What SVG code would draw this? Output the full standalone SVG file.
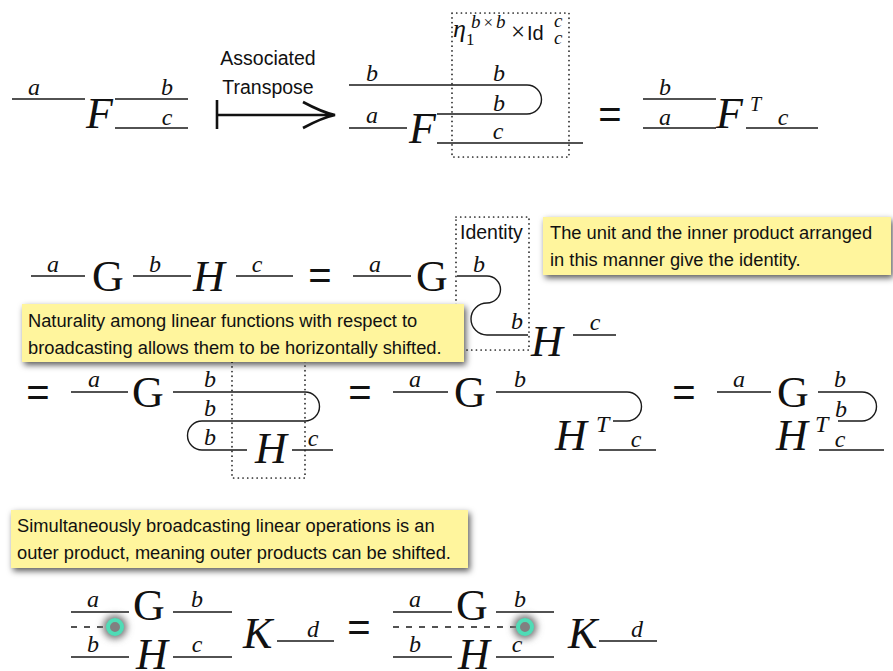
<svg xmlns="http://www.w3.org/2000/svg" width="893" height="671" viewBox="0 0 893 671">
<defs>
<style>
.ln{stroke:#1a1a1a;stroke-width:1.4;fill:none}
.dot{stroke:#222;stroke-width:1.7;stroke-dasharray:0.1 4.6;stroke-linecap:round;fill:none}
.lab{font-family:"Liberation Serif",serif;font-style:italic;font-size:24px;text-anchor:middle;fill:#111}
.big{font-family:"Liberation Serif",serif;font-style:italic;font-size:44px;fill:#111}
.up{font-style:normal}
.eq{font-family:"Liberation Sans",sans-serif;font-size:40px;fill:#111;text-anchor:middle}
.sans{font-family:"Liberation Sans",sans-serif;font-size:19.5px;fill:#111}
.note{font-family:"Liberation Sans",sans-serif;font-size:18.3px;fill:#111}
.box{fill:#fff59d}
.sup{font-family:"Liberation Serif",serif;font-style:italic;font-size:19px;fill:#111}
.dash{stroke:#1a1a1a;stroke-width:1.4;stroke-dasharray:6 7;fill:none}
</style>
<filter id="sh" x="-10%" y="-30%" width="120%" height="170%">
<feDropShadow dx="2" dy="3" stdDeviation="3" flood-color="#000" flood-opacity="0.65"/>
</filter>
<filter id="glow" x="-100%" y="-100%" width="300%" height="300%">
<feGaussianBlur stdDeviation="3.5"/>
</filter>
</defs>
<rect width="893" height="671" fill="#fff"/>

<g id="connectors">
<path class="ln" d="M12,99H85M115,99H188M115,128H188"/>
<path class="ln" d="M349,85H527A14.5,14.5 0 0 1 527,114H437M349,128H407M437,143H583"/>
<path class="ln" d="M643,99H716M643,128H716M746,128H818"/>
<path class="ln" d="M31,276H85M133,276H191M236,276H293"/>
<path class="ln" d="M353,276H411M457,276H487A13.5,13.5 0 0 1 487,303A16,16 0 0 0 487,335H528M573,335H616"/>
<path class="ln" d="M71,392H128M173,392H305A14.5,14.5 0 0 1 305,421H202A14.5,14.5 0 0 0 202,450H247M292,450H333"/>
<path class="ln" d="M393,392H448M496,392H627A14.5,14.5 0 0 1 627,421H613M599,450H656"/>
<path class="ln" d="M717,392H771M818,392H862A14.5,14.5 0 0 1 862,421H838M819,450H884"/>
<path class="ln" d="M71,612H129M173,612H232M71,657H129M173,657H232M277,641H334"/>
<path class="dash" d="M71,627H115"/>
<path class="ln" d="M393,612H452M496,612H554M393,657H452M496,657H554M599,641H657"/>
<path class="dash" d="M393,627H525"/>
</g>

<g id="row1-left">
<text class="lab" x="34" y="95">a</text>
<text class="big" x="86" y="128">F</text>
<text class="lab" x="167" y="95">b</text>
<text class="lab" x="167" y="125">c</text>
</g>

<g id="transpose-arrow">
<text class="sans" x="268" y="65" text-anchor="middle">Associated</text>
<text class="sans" x="268" y="94" text-anchor="middle">Transpose</text>
<path d="M217,100V129M217,115H333M303,102C316,109 325,113 335,115C325,117 316,121 303,128" stroke="#111" stroke-width="2.6" fill="none"/>
</g>

<g id="row1-mid">
<text class="lab" x="372" y="81">b</text>
<text class="lab" x="499" y="81">b</text>
<text class="lab" x="499" y="111">b</text>
<text class="lab" x="372" y="123">a</text>
<text class="big" x="409" y="143">F</text>
<text class="lab" x="498" y="139">c</text>
</g>

<g id="eta-box">
<rect class="dot" x="452" y="13" width="117" height="144"/>
<text x="453" y="37" font-family="Liberation Serif, serif" font-style="italic" font-size="26" fill="#111">η</text>
<text x="466" y="45" font-family="Liberation Serif, serif" font-size="17" fill="#111">1</text>
<text class="sup" x="471" y="28">b<tspan font-style="normal" font-size="17" dx="3">×</tspan><tspan dx="3">b</tspan></text>
<text x="511" y="40" font-family="Liberation Serif, serif" font-size="25" fill="#111">×</text>
<text x="527" y="40" font-family="Liberation Sans, sans-serif" font-size="20" fill="#111">Id</text>
<text class="sup" x="554" y="27" font-size="17">c</text>
<text class="sup" x="554" y="44" font-size="17">c</text>
</g>

<g id="row1-right">
<text class="eq" x="610" y="128">=</text>
<text class="lab" x="665" y="95">b</text>
<text class="lab" x="665" y="125">a</text>
<text class="big" x="716" y="128">F</text>
<text x="750" y="111" font-family="Liberation Serif, serif" font-style="italic" font-size="20" fill="#111">T</text>
<text class="lab" x="783" y="125">c</text>
</g>

<g id="row2-left">
<text class="lab" x="53" y="272">a</text>
<text class="big up" x="92" y="291">G</text>
<text class="lab" x="155" y="272">b</text>
<text class="big" x="193" y="291">H</text>
<text class="lab" x="257" y="272">c</text>
<text class="eq" x="320" y="289">=</text>
</g>

<g id="row2-right">
<text class="lab" x="375" y="272">a</text>
<text class="big up" x="416" y="291">G</text>
<text class="lab" x="479" y="272">b</text>
<text class="lab" x="517" y="329">b</text>
<text class="big" x="531" y="356">H</text>
<text class="lab" x="595" y="330">c</text>
</g>

<g id="identity-box">
<rect class="dot" x="456" y="217" width="73" height="133"/>
<text class="sans" x="460" y="239">Identity</text>
</g>

<g id="row3-a">
<text class="eq" x="38" y="406">=</text>
<text class="lab" x="94" y="387">a</text>
<text class="big up" x="132" y="407">G</text>
<text class="lab" x="210" y="387">b</text>
<text class="lab" x="210" y="416">b</text>
<text class="lab" x="210" y="445">b</text>
<text class="big" x="255" y="463">H</text>
<text class="lab" x="313" y="446">c</text>
<rect class="dot" x="232" y="345" width="73" height="133"/>
</g>

<g id="row3-b">
<text class="eq" x="360" y="406">=</text>
<text class="lab" x="415" y="387">a</text>
<text class="big up" x="454" y="407">G</text>
<text class="lab" x="520" y="387">b</text>
<text class="big" x="555" y="450">H</text>
<text x="596" y="432" font-family="Liberation Serif, serif" font-style="italic" font-size="24" fill="#111">T</text>
<text class="lab" x="636" y="447">c</text>
</g>

<g id="row3-c">
<text class="eq" x="684" y="406">=</text>
<text class="lab" x="739" y="387">a</text>
<text class="big up" x="777" y="407">G</text>
<text class="lab" x="840" y="387">b</text>
<text class="lab" x="841" y="417">b</text>
<text class="lab" x="840" y="447">c</text>
<text class="big" x="776" y="450">H</text>
<text x="815" y="432" font-family="Liberation Serif, serif" font-style="italic" font-size="24" fill="#111">T</text>
</g>

<g id="row4-left">
<text class="lab" x="93" y="607">a</text>
<text class="lab" x="93" y="652">b</text>
<text class="big up" x="133" y="620">G</text>
<text class="big" x="136" y="669">H</text>
<text class="lab" x="197" y="607">b</text>
<text class="lab" x="197" y="652">c</text>
<text class="big" x="243" y="648">K</text>
<text class="lab" x="313" y="637">d</text>
<circle cx="115" cy="627" r="12" fill="#777" filter="url(#glow)"/>
<circle cx="115" cy="627" r="7" fill="#808080" stroke="#4fdcb6" stroke-width="4"/>
</g>

<g id="row4-eq">
<text class="eq" x="359" y="641">=</text>
</g>

<g id="row4-right">
<text class="lab" x="415" y="607">a</text>
<text class="lab" x="415" y="652">b</text>
<text class="big up" x="456" y="620">G</text>
<text class="big" x="458" y="669">H</text>
<text class="lab" x="520" y="607">b</text>
<text class="lab" x="517" y="652">c</text>
<text class="big" x="568" y="648">K</text>
<text class="lab" x="637" y="637">d</text>
<circle cx="525" cy="627" r="12" fill="#777" filter="url(#glow)"/>
<circle cx="525" cy="627" r="7" fill="#808080" stroke="#4fdcb6" stroke-width="4"/>
</g>

<g id="note-identity">
<rect class="box" x="543" y="217" width="348" height="58" filter="url(#sh)"/>
<text class="note" x="550" y="239">The unit and the inner product arranged</text>
<text class="note" x="550" y="266">in this manner give the identity.</text>
</g>

<g id="note-naturality">
<rect class="box" x="22" y="304" width="442" height="58" filter="url(#sh)"/>
<text class="note" x="28" y="327">Naturality among linear functions with respect to</text>
<text class="note" x="28" y="354">broadcasting allows them to be horizontally shifted.</text>
</g>

<g id="note-outer">
<rect class="box" x="11" y="510" width="457" height="58" filter="url(#sh)"/>
<text class="note" x="17" y="532">Simultaneously broadcasting linear operations is an</text>
<text class="note" x="17" y="559">outer product, meaning outer products can be shifted.</text>
</g>
</svg>
